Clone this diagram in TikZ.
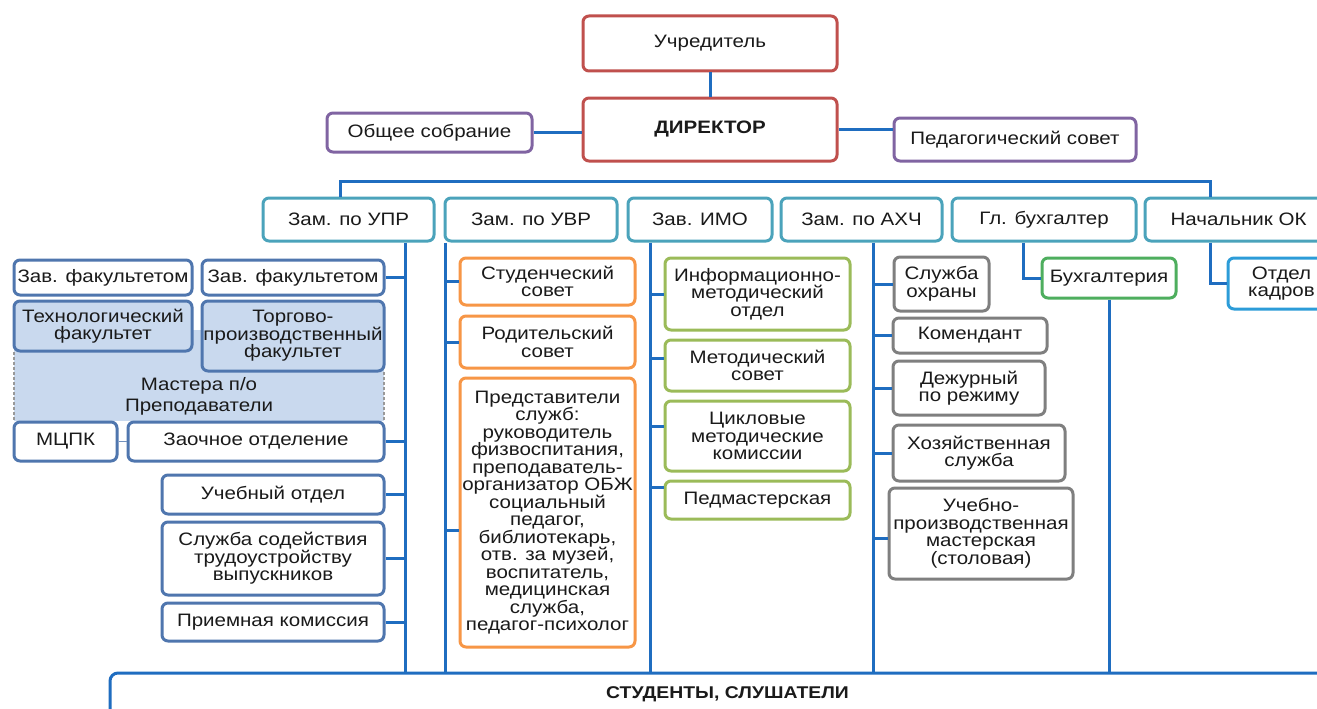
\documentclass[tikz,border=0pt]{standalone}
\usepackage{fontspec}
\setmainfont{Liberation Sans}[FakeStretch=1.14]
\definecolor{cRed}{HTML}{C0504D}
\definecolor{cPur}{HTML}{8064A2}
\definecolor{cTeal}{HTML}{4BA3BB}
\definecolor{cLB}{HTML}{4F76AE}
\definecolor{cLBfill}{HTML}{C9D9EE}
\definecolor{cOr}{HTML}{F79646}
\definecolor{cGr}{HTML}{9BBB59}
\definecolor{cGy}{HTML}{7F7F7F}
\definecolor{cBuh}{HTML}{4EAE5E}
\definecolor{cOK}{HTML}{2C9CD8}
\definecolor{cLine}{HTML}{1F6DC0}
\definecolor{cTxt}{HTML}{1A1A1A}
\newcommand\bxn[7]{%
  \pgfmathsetmacro\myW{#5-#3}%
  \pgfmathsetmacro\myH{#6-#4}%
  \node[#1, minimum width=\myW pt, minimum height=\myH pt] (#2) at ({(#3+#5)/2},{(#4+#6)/2}) {#7};}
\tikzset{
  bx/.style={draw, line width=3pt, rounded corners=6pt, fill=white, inner sep=1pt,
    align=center, text=cTxt, font=\fontsize{18}{17.5}\selectfont},
  rbox/.style={bx, draw=cRed},
  pbox/.style={bx, draw=cPur},
  tbox/.style={bx, draw=cTeal},
  lbox/.style={bx, draw=cLB},
  lfbox/.style={bx, draw=cLB, fill=cLBfill},
  obox/.style={bx, draw=cOr},
  gbox/.style={bx, draw=cGr},
  ybox/.style={bx, draw=cGy},
  bbox/.style={bx, draw=cBuh},
  kbox/.style={bx, draw=cOK},
  conn/.style={draw=cLine, line width=3pt},
  thinconn/.style={draw=cLB!80, line width=1.5pt},
  dashside/.style={draw=cGy!80, line width=1.5pt, dash pattern=on 3pt off 2pt},
}
\begin{document}
\begin{tikzpicture}[x=1pt,y=-1pt]
\useasboundingbox (0,0) rectangle (1317,709);
\fill[white] (0,0) rectangle (1317,709);

% top
\bxn{rbox}{uch}{583}{16}{837}{71}{Учредитель}
\bxn{rbox,font=\bfseries\fontsize{18}{18}\selectfont}{dir}{583}{98}{837}{161}{ДИРЕКТОР}
\bxn{pbox}{obs}{327}{113}{532}{152}{Общее собрание}
\bxn{pbox}{ped}{894}{118}{1136}{161}{Педагогический совет}

% deputies
\bxn{tbox}{upr}{263}{198}{434}{241}{Зам. по УПР}
\bxn{tbox}{uvr}{445}{198}{617}{241}{Зам. по УВР}
\bxn{tbox}{imo}{628}{198}{772}{241}{Зав. ИМО}
\bxn{tbox}{ahch}{781}{198}{942}{241}{Зам. по АХЧ}
\bxn{tbox}{buh}{952}{198}{1136}{241}{Гл. бухгалтер}
\bxn{tbox}{ok}{1145}{198}{1332}{241}{Начальник ОК}

% masters region
\fill[cLBfill] (14,330) rectangle (384,421);
\draw[dashside] (14,352) -- (14,421);
\draw[dashside] (384,372) -- (384,421);
\node[align=center, text=cTxt, font=\fontsize{18}{21}\selectfont] (mast) at (199,396) {Мастера п/о\\Преподаватели};

% left column
\bxn{lbox}{zav1}{14}{260}{192}{295}{Зав. факультетом}
\bxn{lbox}{zav2}{202}{260}{384}{295}{Зав. факультетом}
\bxn{lfbox}{tech}{14}{301}{192}{351}{Технологический\\факультет}
\bxn{lfbox}{torg}{202}{301}{384}{371}{Торгово-\\производственный\\факультет}
\bxn{lbox}{mcpk}{14}{422}{117}{461}{МЦПК}
\bxn{lbox}{zaoch}{128}{422}{384}{461}{Заочное отделение}
\bxn{lbox}{ucheb}{162}{475}{384}{514}{Учебный отдел}
\bxn{lbox}{sluzh}{162}{522}{384}{595}{Служба содействия\\трудоустройству\\выпускников}
\bxn{lbox}{priem}{162}{603}{384}{641}{Приемная комиссия}

% UVR column
\bxn{obox}{st}{460}{258}{635}{305}{Студенческий\\совет}
\bxn{obox}{rod}{460}{316}{635}{368}{Родительский\\совет}
\bxn{obox}{pred}{460}{378}{635}{647}{Представители\\служб:\\руководитель\\физвоспитания,\\преподаватель-\\организатор ОБЖ\\социальный\\педагог,\\библиотекарь,\\отв. за музей,\\воспитатель,\\медицинская\\служба,\\педагог-психолог}

% IMO column
\bxn{gbox}{imo1}{665}{258}{850}{330}{Информационно-\\методический\\отдел}
\bxn{gbox}{imo2}{665}{340}{850}{391}{Методический\\совет}
\bxn{gbox}{imo3}{665}{401}{850}{471}{Цикловые\\методические\\комиссии}
\bxn{gbox}{imo4}{665}{481}{850}{519}{Педмастерская}

% AHCh column
\bxn{ybox}{ohr}{894}{257}{989}{311}{Служба\\охраны}
\bxn{ybox}{kom}{893}{318}{1047}{353}{Комендант}
\bxn{ybox}{dezh}{893}{361}{1045}{415}{Дежурный\\по режиму}
\bxn{ybox}{hoz}{893}{425}{1065}{481}{Хозяйственная\\служба}
\bxn{ybox}{stol}{889}{488}{1073}{579}{Учебно-\\производственная\\мастерская\\(столовая)}

% accounting and HR
\bxn{bbox}{buhg}{1042}{258}{1176}{298}{Бухгалтерия}
\bxn{kbox}{okd}{1228}{258}{1335}{309}{Отдел\\кадров}

% students
\bxn{bx,draw=cLine,rounded corners=8pt,font=\bfseries\fontsize{17}{17}\selectfont}{stud}{110}{673}{1345}{716}{СТУДЕНТЫ, СЛУШАТЕЛИ}

% connectors
\draw[conn] (uch) -- (dir);
\draw[conn] (obs.east) -- (obs.east -| dir.west);
\draw[conn] (dir.east) -- (dir.east -| ped.west);
\coordinate (busL) at (340,181);
\coordinate (busR) at (1210,181);
\draw[conn] (upr.north -| busL) -- (busL) -- (busR) -- (ok.north -| busR);

\coordinate (vA) at (405,0);
\coordinate (vB) at (445,0);
\coordinate (vC) at (650,0);
\coordinate (vD) at (873,0);
\coordinate (vE) at (1023,0);
\draw[conn] (upr.south -| vA) -- (stud.north -| vA);
\draw[conn] (uvr.south -| vB) -- (stud.north -| vB);
\draw[conn] (imo.south -| vC) -- (stud.north -| vC);
\draw[conn] (ahch.south -| vD) -- (stud.north -| vD);
\draw[conn] (buh.south -| vE) |- (buhg.west);
\draw[conn] (buhg.south) -- (stud.north -| buhg.south);
\draw[conn] (ok.south -| busR) |- (okd.west);

\foreach \n in {zav2,zaoch,ucheb,sluzh,priem}{\draw[conn] (\n.east) -- (\n.east -| vA);}
\draw[thinconn] (mcpk.east) -- (zaoch.west);

\path ([yshift=-18pt]pred.west) coordinate (predb);
\draw[conn] (st.west -| vB) -- (st.west);
\draw[conn] (rod.west -| vB) -- (rod.west);
\draw[conn] (predb -| vB) -- (predb);

\path ([yshift=7pt]imo2.west) coordinate (imo2b);
\path ([yshift=10pt]imo3.west) coordinate (imo3b);
\path ([yshift=13pt]imo4.west) coordinate (imo4b);
\draw[conn] (imo1.west -| vC) -- (imo1.west);
\draw[conn] (imo2b -| vC) -- (imo2b);
\draw[conn] (imo3b -| vC) -- (imo3b);
\draw[conn] (imo4b -| vC) -- (imo4b);

\path ([yshift=-5pt]stol.west) coordinate (stolb);
\foreach \n in {ohr,kom,dezh,hoz}{\draw[conn] (\n.west -| vD) -- (\n.west);}
\draw[conn] (stolb -| vD) -- (stolb);
\end{tikzpicture}
\end{document}
